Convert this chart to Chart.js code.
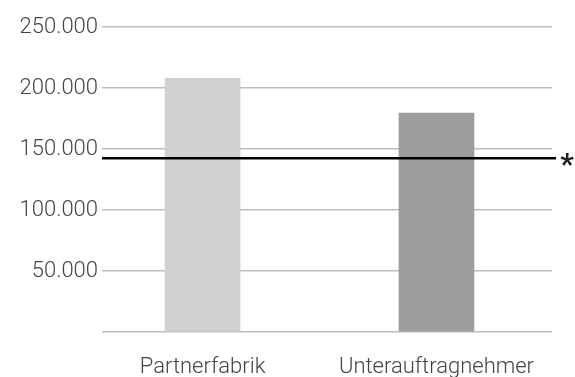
<!DOCTYPE html>
<html lang="de">
<head>
  <meta charset="UTF-8">
  <title>Partnerfabrik vs. Unterauftragnehmer</title>
  <script src="https://cdn.jsdelivr.net/npm/chart.js"></script>
  <style>
    html, body { margin: 0; padding: 0; background: #fff; }
    #wrap { width: 575px; height: 377px; }
  </style>
</head>
<body>
  <div id="wrap"><canvas id="chart"></canvas></div>

  <script>
    // Daten
    const categories = ['Partnerfabrik', 'Unterauftragnehmer'];
    const values = [208000, 179500];
    const barColors = ['#d0d0d0', '#9d9d9d'];
    const referenceValue = 142500;   // schwarze Linie mit *
    const referenceMark = '*';
    const yTicks = [0, 50000, 100000, 150000, 200000, 250000];

    const fmt = v => v.toLocaleString('de-DE');
    const labelFont = { family: 'Roboto', size: 22, weight: 300 };

    // Referenzlinie + Sternchen
    const refLine = {
      id: 'refLine',
      afterDatasetsDraw(chart) {
        const { ctx, chartArea, scales } = chart;
        const y = scales.y.getPixelForValue(referenceValue);
        ctx.save();
        ctx.strokeStyle = '#000';
        ctx.lineWidth = 2.5;
        ctx.beginPath();
        ctx.moveTo(chartArea.left, y);
        ctx.lineTo(chartArea.right + 4, y);
        ctx.stroke();
        ctx.fillStyle = '#222';
        ctx.font = 'bold 30px Roboto';
        ctx.textAlign = 'center';
        ctx.textBaseline = 'middle';
        ctx.fillText(referenceMark, chartArea.right + 15, y + 8);
        ctx.restore();
      }
    };

    const config = {
      type: 'bar',
      data: {
        datasets: [{
          data: categories.map((c, i) => ({ x: i, y: values[i] })),
          backgroundColor: barColors,
          borderWidth: 0,
          barThickness: 75
        }]
      },
      options: {
        responsive: false,
        animation: false,
        layout: { padding: { top: 27, right: 23, bottom: 0, left: 0 } },
        plugins: {
          legend: { display: false },
          tooltip: { enabled: false }
        },
        scales: {
          x: {
            type: 'linear',
            offset: false,
            min: -0.43,
            max: 1.494,
            afterBuildTicks(scale) { scale.ticks = categories.map((c, i) => ({ value: i })); },
            grid: { display: false },
            border: { display: false },
            ticks: {
              color: '#444',
              padding: 14,
              font: labelFont,
              callback: v => categories[v]
            },
            afterFit(scale) { scale.height = 45; }
          },
          y: {
            min: 0,
            max: 250000,
            afterBuildTicks(scale) { scale.ticks = yTicks.map(v => ({ value: v })); },
            grid: { color: '#bdbdbd', lineWidth: 1.5, drawTicks: false },
            border: { display: false },
            ticks: {
              color: '#444',
              padding: 4,
              font: labelFont,
              callback: v => (v === 0 ? '' : fmt(v))
            },
            afterFit(scale) { scale.width = 102; }
          }
        }
      },
      plugins: [refLine]
    };

    const canvas = document.getElementById('chart');
    canvas.width = 575;
    canvas.height = 377;
    new Chart(canvas.getContext('2d'), config);
  </script>
</body>
</html>
